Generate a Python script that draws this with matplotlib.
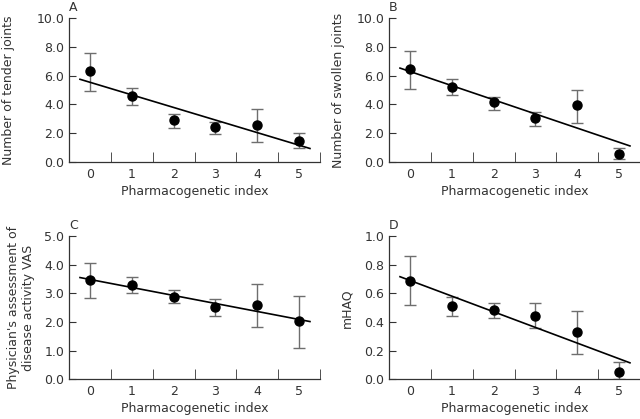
import numpy as np
import matplotlib.pyplot as plt

idx = [0, 1, 2, 3, 4, 5]

# panel A - tender joints
tender = [6.30, 4.56, 2.89, 2.45, 2.57, 1.50]
tender_hi = [7.59, 5.16, 3.31, 2.82, 3.70, 1.99]
tender_lo = [4.91, 3.94, 2.36, 1.92, 1.37, 0.95]
tender_fit = [5.54, -0.873]

# panel B - swollen joints
swollen = [6.44, 5.21, 4.14, 3.03, 3.94, 0.56]
swollen_hi = [7.69, 5.76, 4.54, 3.45, 5.02, 0.97]
swollen_lo = [5.05, 4.63, 3.61, 2.52, 2.73, 0.20]
swollen_fit = [6.29, -0.982]

# panel C - physician VAS
vas = [3.48, 3.29, 2.89, 2.52, 2.61, 2.02]
vas_hi = [4.08, 3.56, 3.11, 2.80, 3.34, 2.91]
vas_lo = [2.85, 3.00, 2.66, 2.20, 1.82, 1.09]
vas_fit = [3.49, -0.28]

# panel D - mHAQ
mhaq = [0.689, 0.514, 0.481, 0.442, 0.327, 0.051]
mhaq_hi = [0.862, 0.575, 0.530, 0.530, 0.477, 0.117]
mhaq_lo = [0.519, 0.444, 0.428, 0.355, 0.175, 0.0]
mhaq_fit = [0.691, -0.1096]

panels = [
    ("A", "Number of tender joints", tender, tender_hi, tender_lo, tender_fit, 10.0),
    ("B", "Number of swollen joints", swollen, swollen_hi, swollen_lo, swollen_fit, 10.0),
    ("C", "Physician's assessment of\ndisease activity VAS", vas, vas_hi, vas_lo, vas_fit, 5.0),
    ("D", "mHAQ", mhaq, mhaq_hi, mhaq_lo, mhaq_fit, 1.0),
]
boxes = [
    [0.108, 0.613, 0.392, 0.344],
    [0.608, 0.613, 0.392, 0.344],
    [0.108, 0.095, 0.392, 0.341],
    [0.608, 0.095, 0.392, 0.341],
]
ylab_x = [-0.215, -0.175, -0.135, -0.143]

plt.rcParams['font.family'] = 'DejaVu Sans'
fig = plt.figure(figsize=(6.4, 4.19), dpi=100)
axc = "#333333"

for (lab, ylab, m, hi, lo, fit, ymax), box, lx in zip(panels, boxes, ylab_x):
    ax = fig.add_axes(box)
    x = np.array(idx)
    m = np.array(m)
    err = [m - np.array(lo), np.array(hi) - m]
    ax.errorbar(x, m, yerr=err, fmt='none', ecolor='#6e6e6e', elinewidth=1.0,
                capsize=4, capthick=1.0, zorder=2)
    ax.plot(x, m, 'o', color='black', markersize=6.5, zorder=3)
    xf = np.array([-0.24, 5.26])
    ax.plot(xf, fit[0] + fit[1] * xf, color='black', lw=1.2, zorder=4)

    ax.set_xlim(-0.5, 5.5)
    ax.set_ylim(0, ymax)
    ax.set_yticks(np.linspace(0, ymax, 6))
    ax.yaxis.set_major_formatter(plt.FormatStrFormatter("%.1f"))
    ax.set_xticks(idx)
    ax.set_xticks([0.5, 1.5, 2.5, 3.5, 4.5, 5.5], minor=True)
    ax.tick_params(axis='x', which='major', length=0, labelsize=9, colors=axc, pad=4)
    ax.tick_params(axis='x', which='minor', direction='in', length=7, color=axc)
    ax.tick_params(axis='y', direction='in', length=5, labelsize=9, colors=axc)
    for s in ['top', 'right']:
        ax.spines[s].set_visible(False)
    for s in ['left', 'bottom']:
        ax.spines[s].set_color(axc)
        ax.spines[s].set_linewidth(0.9)
    ax.set_xlabel("Pharmacogenetic index", fontsize=9, color=axc, labelpad=3)
    ax.set_ylabel(ylab, fontsize=9, color=axc)
    ax.yaxis.set_label_coords(lx, 0.5)
    ax.text(0.0, 1.03, lab, transform=ax.transAxes, fontsize=9, color=axc,
            ha='left', va='bottom')

fig.savefig("out.png", dpi=100)
